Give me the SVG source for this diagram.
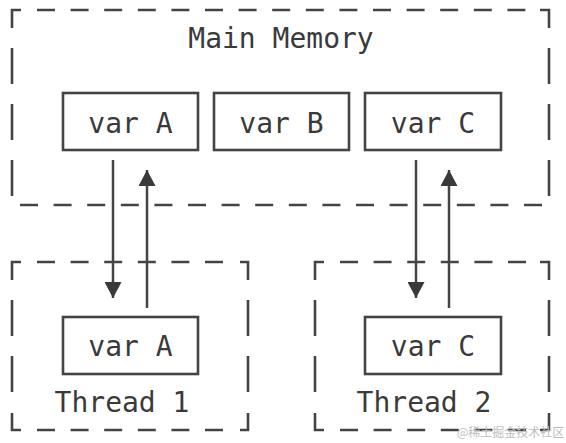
<svg xmlns="http://www.w3.org/2000/svg" width="566" height="443" viewBox="0 0 566 443">
<style>
.t{font-family:"DejaVu Sans Mono","Liberation Mono",monospace;font-size:28px;fill:#3a3a3a;text-anchor:middle}
.box{fill:#fff;stroke:#444;stroke-width:2.6}
.c{fill:none;stroke:#444;stroke-width:2.6}
.h{fill:none;stroke:#444;stroke-width:2.6;stroke-dasharray:18 15.6}
.v{fill:none;stroke:#444;stroke-width:2.6;stroke-dasharray:36 20}
.ln{stroke:#444;stroke-width:2.5}
.wm{font-family:"Noto Sans CJK SC","Noto Sans",sans-serif;font-size:12px;fill:#bdbdbd}
</style>
<defs>
<marker id="ah" markerUnits="userSpaceOnUse" markerWidth="16" markerHeight="17" refX="16" refY="8.5" orient="auto" viewBox="0 0 16 17">
<path d="M0,0 L16,8.5 L0,17 Z" fill="#3a3a3a"/>
</marker>
</defs>
<g id="main-memory">
<path class="c" d="M12,28 V10 H21 M540,10 H549 V28"/>
<path class="h" d="M37,10 H526"/>
<path class="h" d="M20,205 H543"/>
<path class="v" d="M12,48 V198"/>
<path class="v" d="M549,48 V198"/>
<text class="t" x="281" y="48">Main Memory</text>
</g>
<g id="mem-varA">
<rect class="box" x="63" y="93" width="135" height="57"/>
<text class="t" x="130.5" y="133">var A</text>
</g>
<g id="mem-varB">
<rect class="box" x="214" y="93" width="135" height="57"/>
<text class="t" x="281.5" y="133">var B</text>
</g>
<g id="mem-varC">
<rect class="box" x="365" y="93" width="136" height="57"/>
<text class="t" x="433" y="133">var C</text>
</g>
<g id="thread1">
<path class="c" d="M12,280 V262 H21 M240,262 H248 V280 M12,413 V430 H21 M240,430 H248 V413"/>
<path class="h" d="M37,262 H223 M37,430 H223"/>
<path class="v" d="M12,300 V394 M248,300 V394"/>
<text class="t" x="122" y="412">Thread 1</text>
</g>
<g id="t1-varA">
<rect class="box" x="63" y="317" width="135" height="57"/>
<text class="t" x="130.5" y="356">var A</text>
</g>
<g id="thread2">
<path class="c" d="M315,280 V262 H324 M540,262 H549 V280 M315,413 V430 H324 M540,430 H549 V413"/>
<path class="h" d="M340,262 H526 M340,430 H526"/>
<path class="v" d="M315,300 V394 M549,300 V394"/>
<text class="t" x="424" y="412">Thread 2</text>
</g>
<g id="t2-varC">
<rect class="box" x="365" y="317" width="136" height="57"/>
<text class="t" x="433" y="356">var C</text>
</g>
<g id="connectors">
<line class="ln" x1="113" y1="160" x2="113" y2="298" marker-end="url(#ah)"/>
<line class="ln" x1="147" y1="308" x2="147" y2="170" marker-end="url(#ah)"/>
<line class="ln" x1="416" y1="160" x2="416" y2="298" marker-end="url(#ah)"/>
<line class="ln" x1="449" y1="308" x2="449" y2="170" marker-end="url(#ah)"/>
</g>
<text class="wm" x="457" y="437">@稀土掘金技术社区</text>
</svg>
